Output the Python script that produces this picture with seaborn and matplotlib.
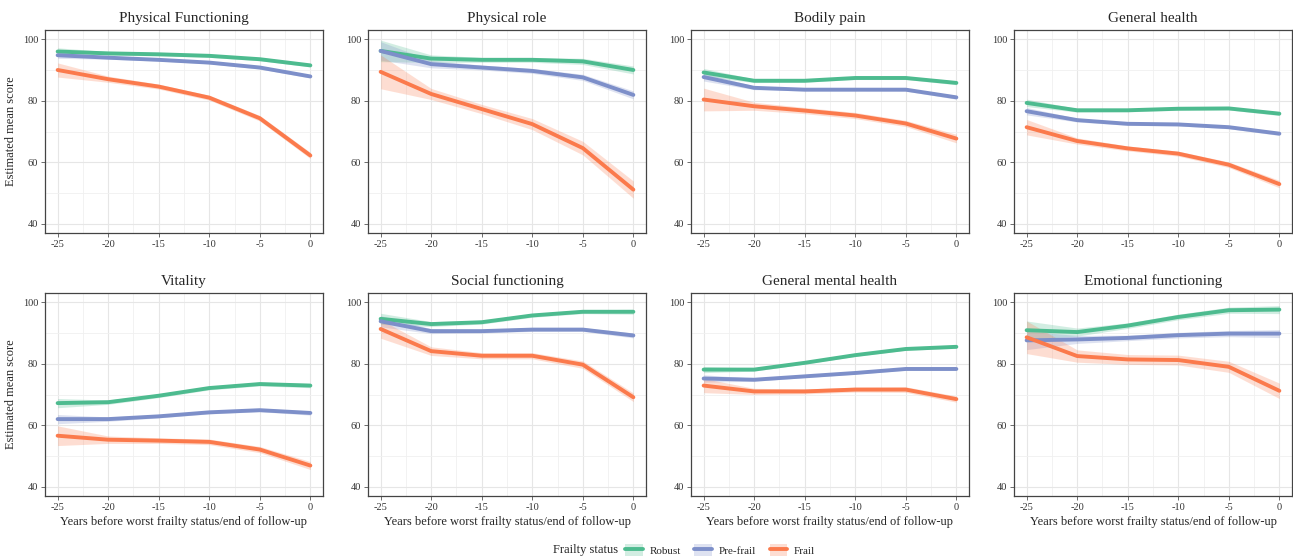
import numpy as np
import pandas as pd
import seaborn as sns
import matplotlib
matplotlib.use("Agg")
from matplotlib import pyplot as plt
from matplotlib.lines import Line2D
from matplotlib.patches import Patch

# years before worst frailty status / end of follow-up
years = [-25, -20, -15, -10, -5, 0]
statuses = ["Robust", "Pre-frail", "Frail"]
panel_titles = ["Physical Functioning", "Physical role", "Bodily pain", "General health",
                "Vitality", "Social functioning", "General mental health", "Emotional functioning"]

# estimated mean scores
pf_robust = [96.0, 95.4, 95.1, 94.6, 93.5, 91.5]
pf_prefrail = [94.8, 94.0, 93.3, 92.4, 90.8, 87.9]
pf_frail = [90.0, 87.0, 84.6, 81.0, 74.3, 62.2]

pr_robust = [96.2, 93.7, 93.3, 93.3, 92.8, 90.0]
pr_prefrail = [96.2, 91.9, 90.8, 89.7, 87.6, 81.9]
pr_frail = [89.4, 82.2, 77.3, 72.4, 64.6, 51.1]

bp_robust = [89.2, 86.5, 86.5, 87.4, 87.4, 85.8]
bp_prefrail = [87.7, 84.2, 83.6, 83.6, 83.6, 81.1]
bp_frail = [80.4, 78.2, 76.8, 75.2, 72.6, 67.7]

gh_robust = [79.3, 76.9, 76.9, 77.4, 77.5, 75.8]
gh_prefrail = [76.6, 73.7, 72.5, 72.3, 71.4, 69.3]
gh_frail = [71.4, 66.9, 64.5, 62.8, 59.2, 52.9]

vt_robust = [67.2, 67.5, 69.6, 72.1, 73.4, 72.9]
vt_prefrail = [62.0, 62.0, 62.9, 64.2, 64.9, 64.0]
vt_frail = [56.6, 55.3, 55.0, 54.6, 52.1, 46.9]

sf_robust = [94.6, 92.9, 93.5, 95.7, 96.9, 96.9]
sf_prefrail = [93.8, 90.6, 90.6, 91.1, 91.1, 89.2]
sf_frail = [91.3, 84.1, 82.6, 82.6, 79.7, 69.1]

mh_robust = [78.1, 78.1, 80.3, 82.8, 84.8, 85.5]
mh_prefrail = [75.2, 74.8, 75.9, 77.0, 78.3, 78.3]
mh_frail = [72.9, 71.0, 71.0, 71.6, 71.6, 68.5]

ef_robust = [90.9, 90.3, 92.4, 95.2, 97.4, 97.6]
ef_prefrail = [87.6, 87.9, 88.4, 89.3, 89.8, 89.8]
ef_frail = [88.6, 82.5, 81.4, 81.2, 79.0, 71.2]

# half-widths of the confidence bands
pf_robust_ci = [1.2, 0.6, 0.5, 0.5, 0.5, 0.5]
pf_prefrail_ci = [1.0, 0.5, 0.4, 0.4, 0.5, 0.5]
pf_frail_ci = [2.3, 1.0, 0.8, 0.8, 0.9, 1.0]
pr_robust_ci = [3.5, 1.2, 0.8, 0.8, 1.0, 1.3]
pr_prefrail_ci = [3.0, 1.2, 0.8, 0.8, 1.0, 1.3]
pr_frail_ci = [5.5, 1.8, 1.5, 1.8, 2.2, 2.8]
bp_robust_ci = [1.3, 0.6, 0.5, 0.5, 0.5, 0.6]
bp_prefrail_ci = [1.3, 0.6, 0.4, 0.4, 0.5, 0.6]
bp_frail_ci = [3.7, 1.3, 1.0, 1.0, 1.0, 1.4]
gh_robust_ci = [1.2, 0.6, 0.5, 0.5, 0.5, 0.6]
gh_prefrail_ci = [1.2, 0.6, 0.5, 0.5, 0.5, 0.6]
gh_frail_ci = [2.5, 1.0, 0.8, 0.8, 0.9, 1.2]
vt_robust_ci = [1.5, 0.7, 0.6, 0.6, 0.6, 0.7]
vt_prefrail_ci = [1.5, 0.7, 0.5, 0.5, 0.5, 0.7]
vt_frail_ci = [3.2, 1.2, 0.9, 0.9, 1.0, 1.3]
sf_robust_ci = [1.8, 0.8, 0.6, 0.6, 0.6, 0.8]
sf_prefrail_ci = [1.8, 0.8, 0.6, 0.6, 0.6, 0.8]
sf_frail_ci = [3.0, 1.4, 1.0, 1.0, 1.2, 1.4]
mh_robust_ci = [1.0, 0.5, 0.4, 0.4, 0.4, 0.5]
mh_prefrail_ci = [1.2, 0.5, 0.4, 0.4, 0.4, 0.5]
mh_frail_ci = [2.3, 1.0, 0.8, 0.8, 0.9, 1.0]
ef_robust_ci = [3.0, 1.3, 0.9, 0.9, 1.0, 1.3]
ef_prefrail_ci = [3.0, 1.3, 0.9, 0.9, 1.0, 1.3]
ef_frail_ci = [5.3, 2.0, 1.6, 1.6, 1.8, 2.5]

series = [
    (pf_robust, pf_prefrail, pf_frail, pf_robust_ci, pf_prefrail_ci, pf_frail_ci),
    (pr_robust, pr_prefrail, pr_frail, pr_robust_ci, pr_prefrail_ci, pr_frail_ci),
    (bp_robust, bp_prefrail, bp_frail, bp_robust_ci, bp_prefrail_ci, bp_frail_ci),
    (gh_robust, gh_prefrail, gh_frail, gh_robust_ci, gh_prefrail_ci, gh_frail_ci),
    (vt_robust, vt_prefrail, vt_frail, vt_robust_ci, vt_prefrail_ci, vt_frail_ci),
    (sf_robust, sf_prefrail, sf_frail, sf_robust_ci, sf_prefrail_ci, sf_frail_ci),
    (mh_robust, mh_prefrail, mh_frail, mh_robust_ci, mh_prefrail_ci, mh_frail_ci),
    (ef_robust, ef_prefrail, ef_frail, ef_robust_ci, ef_prefrail_ci, ef_frail_ci),
]

rows = []
for title, s in zip(panel_titles, series):
    for k, status in enumerate(statuses):
        for yr, v, c in zip(years, s[k], s[k + 3]):
            rows.append({"panel": title, "status": status, "year": yr,
                         "score": v, "lo": v - c, "hi": v + c})
df = pd.DataFrame(rows)

palette = {"Robust": "#4dbb8f", "Pre-frail": "#7d8fc9", "Frail": "#fb7a4c"}

sns.set_style("white")
plt.rcParams["font.family"] = ["Liberation Serif", "DejaVu Serif"]
plt.rcParams["axes.unicode_minus"] = False

fig = plt.figure(figsize=(12.93, 5.6), dpi=100)
W, H = 1293.0, 560.0
lefts = [45, 368, 691, 1014]
box_w = 278
tops = [30, 293]
box_h = 203

for i, title in enumerate(panel_titles):
    r, c = divmod(i, 4)
    ax = fig.add_axes([lefts[c] / W, 1 - (tops[r] + box_h) / H, box_w / W, box_h / H])
    sub = df[df.panel == title]
    for status in statuses:
        d = sub[sub.status == status]
        ax.fill_between(d.year, d.lo, d.hi, color=palette[status], alpha=0.25, lw=0)
    sns.lineplot(data=sub, x="year", y="score", hue="status", hue_order=statuses,
                 palette=palette, lw=2.8, legend=False, ax=ax)
    ax.set_xlim(-26.25, 1.25)
    ax.set_ylim(37, 103)
    ax.set_xticks(years)
    ax.set_yticks([40, 60, 80, 100])
    ax.set_xticks([-22.5, -17.5, -12.5, -7.5, -2.5], minor=True)
    ax.set_yticks([50, 70, 90], minor=True)
    ax.grid(which="major", color="#e6e6e6", lw=0.8)
    ax.grid(which="minor", color="#f0f0f0", lw=0.6)
    ax.set_axisbelow(True)
    ax.tick_params(which="major", length=3, width=0.6, color="#555555",
                   labelsize=7.5, labelcolor="#333333", pad=2, bottom=True, left=True)
    ax.tick_params(which="minor", length=0)
    for sp in ax.spines.values():
        sp.set_color("#444444")
        sp.set_linewidth(0.9)
    ax.set_title(title, fontsize=11, pad=6)
    ax.set_xlabel("Years before worst frailty status/end of follow-up" if r == 1 else "",
                  fontsize=9, labelpad=3)
    ax.set_ylabel("Estimated mean score" if c == 0 else "", fontsize=9, labelpad=4)

handles = [(Patch(facecolor=palette[s], alpha=0.25, lw=0),
            Line2D([], [], color=palette[s], lw=2.8)) for s in statuses]
fig.text(0.428, 0.018, "Frailty status", fontsize=9, ha="left", va="center")
fig.legend(handles, statuses, loc="center left", bbox_to_anchor=(0.476, 0.018),
           ncol=3, frameon=False, fontsize=8, handlelength=1.6, handleheight=1.3,
           columnspacing=1.2, handletextpad=0.6)

fig.savefig("out.png", dpi=100)
